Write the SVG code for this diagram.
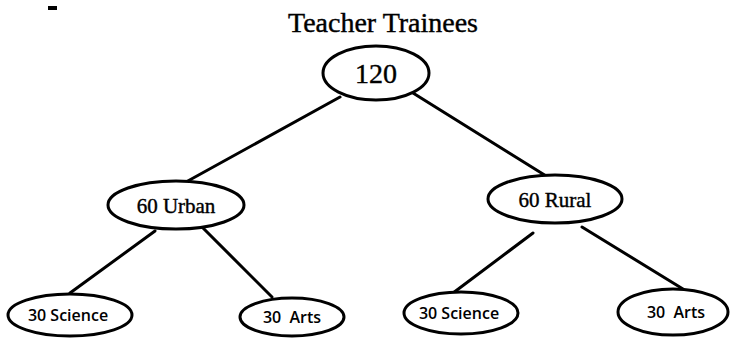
<svg xmlns="http://www.w3.org/2000/svg" width="730" height="338" viewBox="0 0 730 338">
<style>
.n ellipse{fill:#fff;stroke:#000;stroke-width:3}
.e line{stroke:#000;stroke-width:3;stroke-linecap:round}
.s{font-family:"Liberation Serif",serif;fill:#000;text-anchor:middle;stroke:#000;stroke-width:0.4}
.c{font-family:"Open Sans","Liberation Sans",sans-serif;font-weight:600;fill:#000;text-anchor:middle;font-size:16px}
</style>
<rect width="730" height="338" fill="#fff"/>
<rect x="48" y="6" width="9" height="4" fill="#000"/>
<text class="s" x="383" y="32" font-size="27" textLength="190" lengthAdjust="spacingAndGlyphs">Teacher Trainees</text>
<g class="e" id="connectors">
<line x1="340" y1="97" x2="186" y2="182"/>
<line x1="413" y1="93" x2="551" y2="179"/>
<line x1="155" y1="231" x2="70" y2="293"/>
<line x1="200" y1="225" x2="272" y2="297"/>
<line x1="533" y1="233" x2="453" y2="293"/>
<line x1="582" y1="227" x2="683" y2="289"/>
</g>
<g class="n" id="root"><ellipse cx="376" cy="73" rx="53" ry="27"/><text class="s" x="376" y="83" font-size="28">120</text></g>
<g class="n" id="urban"><ellipse cx="176" cy="205" rx="68" ry="24"/><text class="s" x="176" y="213" font-size="21">60 Urban</text></g>
<g class="n" id="rural"><ellipse cx="555" cy="199" rx="67" ry="24"/><text class="s" x="555" y="207" font-size="21">60 Rural</text></g>
<g class="n" id="urban-science"><ellipse cx="70" cy="315" rx="62" ry="21"/><text class="c" x="68" y="321">30 Science</text></g>
<g class="n" id="urban-arts"><ellipse cx="292" cy="317" rx="52" ry="19"/><text class="c" x="292" y="323" xml:space="preserve">30  Arts</text></g>
<g class="n" id="rural-science"><ellipse cx="461" cy="313" rx="57" ry="21"/><text class="c" x="459" y="319">30 Science</text></g>
<g class="n" id="rural-arts"><ellipse cx="673" cy="312" rx="55" ry="23"/><text class="c" x="676" y="318" xml:space="preserve">30  Arts</text></g>
</svg>
